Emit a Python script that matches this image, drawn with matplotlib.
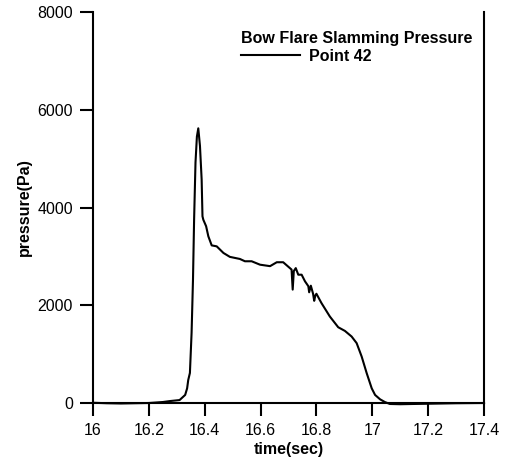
import matplotlib
matplotlib.use("Agg")
import matplotlib.pyplot as plt

time_sec = [16.0, 16.05, 16.1, 16.15, 16.2, 16.25, 16.276, 16.31, 16.33, 16.337, 16.341, 16.347,
            16.353, 16.358, 16.362, 16.367, 16.372, 16.377, 16.383, 16.389, 16.392, 16.395,
            16.405, 16.413, 16.425, 16.443,
            16.467, 16.49, 16.526, 16.544, 16.568, 16.598, 16.634, 16.658, 16.681, 16.705,
            16.711, 16.715, 16.719, 16.726, 16.735, 16.747, 16.759, 16.771, 16.774, 16.78,
            16.788, 16.792, 16.796, 16.8, 16.818, 16.848, 16.878, 16.902, 16.926, 16.944,
            16.962, 16.98, 16.998, 17.01, 17.028, 17.045, 17.063, 17.1, 17.146, 17.2, 17.3, 17.4]
pressure_pa = [5, -5, -10, -5, 0, 20, 40, 60, 165, 300, 470, 615,
               1435, 2520, 3750, 4920, 5450, 5620, 5260, 4575, 3820, 3750,
               3617, 3410, 3225, 3205,
               3070, 2990, 2947, 2900, 2900, 2830, 2800, 2880, 2880, 2760,
               2730, 2320, 2700, 2760, 2625, 2625, 2490, 2390, 2265, 2400,
               2235, 2090, 2200, 2235, 2045, 1770, 1550, 1475, 1360, 1225,
               950, 610, 300, 165, 75, 20, -20, -25, -20, -15, -5, 0]

x_ticks = [16, 16.2, 16.4, 16.6, 16.8, 17, 17.2, 17.4]
x_tick_labels = ["16", "16.2", "16.4", "16.6", "16.8", "17", "17.2", "17.4"]
y_ticks = [0, 2000, 4000, 6000, 8000]

plt.rcParams['font.family'] = ['Liberation Sans', 'DejaVu Sans']

fig = plt.figure(figsize=(5.10, 4.62), dpi=100)
ax = fig.add_axes([93/510, 1 - 403/462, (484-93)/510, (403-12)/462])

ax.plot(time_sec, pressure_pa, color='black', linewidth=1.5, label='Point 42',
        clip_on=False)

ax.set_xlim(16, 17.4)
ax.set_ylim(0, 8000)
ax.set_xticks(x_ticks)
ax.set_xticklabels(x_tick_labels)
ax.set_yticks(y_ticks)
ax.tick_params(direction='out', length=9.5, width=1.5, labelsize=11.5, colors='black',
               pad=5)
ax.spines['top'].set_visible(False)
for s in ['left', 'bottom', 'right']:
    ax.spines[s].set_linewidth(1.5)

ax.set_xlabel('time(sec)', fontsize=11.5, fontweight='bold', labelpad=3)
ax.set_ylabel('pressure(Pa)', fontsize=11.5, fontweight='bold', labelpad=4)

leg = ax.legend(loc='upper left', bbox_to_anchor=(0.379, 0.952), frameon=False,
                title='Bow Flare Slamming Pressure', alignment='left',
                prop={'weight': 'bold', 'size': 11.5},
                title_fontproperties={'weight': 'bold', 'size': 11.5},
                handlelength=3.7, handletextpad=0.55, borderpad=0, borderaxespad=0,
                labelspacing=0.2)

fig.savefig('out.png', dpi=100)
